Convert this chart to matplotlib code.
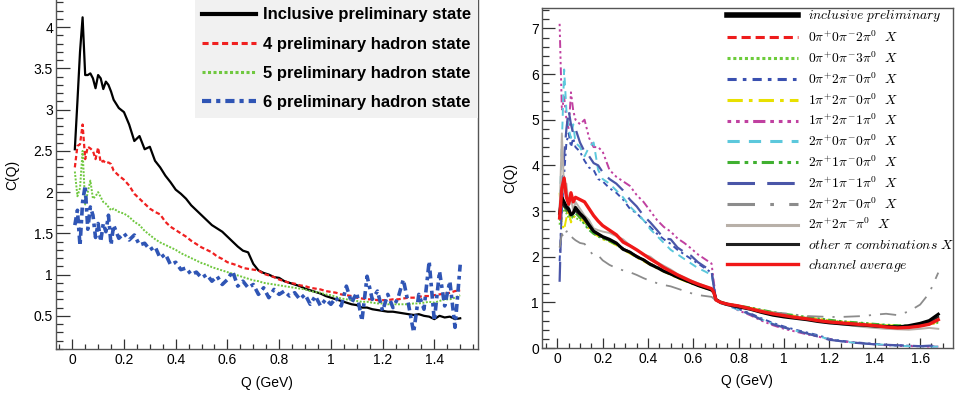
import numpy as np
import matplotlib
matplotlib.use("Agg")
import matplotlib.pyplot as plt
from matplotlib.ticker import MultipleLocator, FuncFormatter

plt.rcParams["font.family"] = ["Liberation Sans", "DejaVu Sans"]
plt.rcParams["mathtext.fontset"] = "cm"

# ---------------- left panel: final-state multiplicity ----------------
q_left = np.round(np.concatenate([np.arange(0.01, 0.165, 0.01),
                                  np.arange(0.18, 1.505, 0.02)]), 2)

c_inclusive = [
    2.52, 3.10, 3.70, 4.12, 3.42, 3.42, 3.44, 3.38, 3.26, 3.42,
    3.38, 3.25, 3.34, 3.30, 3.22, 3.12, 3.02, 2.97, 2.82, 2.62,
    2.68, 2.52, 2.55, 2.38, 2.30, 2.20, 2.12, 2.03, 1.98, 1.92,
    1.84, 1.78, 1.72, 1.66, 1.60, 1.56, 1.52, 1.46, 1.40, 1.34,
    1.29, 1.27, 1.13, 1.05, 1.02, 1.00, 0.97, 0.96, 0.92, 0.90,
    0.88, 0.86, 0.83, 0.81, 0.79, 0.77, 0.74, 0.72, 0.70, 0.68,
    0.66, 0.64, 0.63, 0.60, 0.60, 0.58, 0.57, 0.56, 0.55, 0.55,
    0.54, 0.53, 0.52, 0.51, 0.52, 0.50, 0.49, 0.46, 0.50, 0.48,
    0.49, 0.46, 0.47]
c_4had = [
    2.30, 2.56, 2.58, 2.82, 2.40, 2.55, 2.53, 2.50, 2.40, 2.54,
    2.36, 2.38, 2.35, 2.36, 2.34, 2.26, 2.20, 2.15, 2.08, 1.98,
    1.92, 1.86, 1.80, 1.76, 1.73, 1.64, 1.58, 1.54, 1.50, 1.46,
    1.41, 1.37, 1.33, 1.30, 1.27, 1.22, 1.19, 1.15, 1.13, 1.11,
    1.08, 1.07, 1.06, 1.05, 1.01, 0.99, 0.97, 0.94, 0.92, 0.90,
    0.89, 0.87, 0.86, 0.84, 0.83, 0.82, 0.80, 0.79, 0.78, 0.76,
    0.75, 0.74, 0.72, 0.71, 0.70, 0.70, 0.69, 0.69, 0.69, 0.70,
    0.70, 0.71, 0.72, 0.72, 0.73, 0.74, 0.74, 0.75, 0.76, 0.77,
    0.78, 0.80, 0.81]
c_5had = [
    2.25, 1.95, 2.05, 2.50, 1.85, 2.00, 2.14, 1.92, 1.95, 2.00,
    1.94, 1.88, 1.86, 1.82, 1.78, 1.80, 1.76, 1.74, 1.70, 1.64,
    1.60, 1.53, 1.48, 1.43, 1.39, 1.36, 1.33, 1.30, 1.26, 1.23,
    1.20, 1.17, 1.14, 1.12, 1.09, 1.07, 1.05, 1.03, 1.01, 0.99,
    0.97, 0.95, 0.93, 0.92, 0.90, 0.89, 0.88, 0.87, 0.86, 0.85,
    0.84, 0.83, 0.82, 0.80, 0.79, 0.78, 0.76, 0.75, 0.73, 0.71,
    0.70, 0.69, 0.68, 0.67, 0.67, 0.66, 0.65, 0.65, 0.64, 0.64,
    0.64, 0.64, 0.64, 0.65, 0.65, 0.66, 0.67, 0.66, 0.68, 0.70,
    0.70, 0.72, 0.75]
c_6had = [
    1.60, 1.78, 1.35, 1.88, 2.08, 1.55, 1.82, 1.72, 1.45, 1.62,
    1.40, 1.62, 1.52, 1.72, 1.36, 1.60, 1.44, 1.50, 1.42, 1.48,
    1.36, 1.38, 1.30, 1.34, 1.20, 1.25, 1.12, 1.15, 1.06, 1.08,
    1.00, 1.03, 0.96, 1.00, 0.92, 0.98, 0.88, 0.94, 1.04, 0.86,
    0.92, 0.84, 0.88, 0.76, 0.84, 0.72, 0.82, 0.76, 0.80, 0.74,
    0.78, 0.70, 0.76, 0.64, 0.74, 0.62, 0.70, 0.64, 0.72, 0.62,
    0.86, 0.66, 0.78, 0.44, 0.98, 0.70, 0.80, 0.56, 0.76, 0.60,
    0.72, 0.94, 0.64, 0.30, 0.76, 0.58, 1.16, 0.44, 1.04, 0.62,
    0.92, 0.36, 1.12]

left_labels = ["Inclusive preliminary state", "4 preliminary hadron state",
               "5 preliminary hadron state", "6 preliminary hadron state"]

# ---------------- right panel: pion-charge channels ----------------
q_right = [0.01, 0.02, 0.03, 0.04, 0.05, 0.06, 0.07, 0.08,
           0.10, 0.12, 0.14, 0.16, 0.18, 0.20,
           0.23, 0.26, 0.29, 0.32, 0.35, 0.38, 0.41, 0.44, 0.47, 0.50,
           0.53, 0.56, 0.59, 0.62, 0.65, 0.68,
           0.69, 0.70, 0.72, 0.75,
           0.80, 0.85, 0.90, 0.95, 1.00, 1.05, 1.10, 1.15, 1.20, 1.25,
           1.30, 1.35, 1.40, 1.45, 1.50, 1.55, 1.60,
           1.64, 1.68]

ch_inclusive = [2.95, 3.30, 3.20, 3.10, 3.05, 2.92, 2.95, 3.08,
                2.95, 2.85, 2.70, 2.56, 2.50, 2.44,
                2.38, 2.30, 2.16, 2.10, 2.00, 1.93, 1.83, 1.76, 1.68, 1.62, 1.55, 1.49, 1.43, 1.37, 1.32, 1.27,
                1.22, 1.06, 1.00, 0.95,
                0.90, 0.85, 0.78, 0.72, 0.68, 0.65, 0.62, 0.58, 0.55, 0.53, 0.51, 0.50, 0.48, 0.47, 0.46, 0.49, 0.54,
                0.60, 0.74]
ch_002 = [2.80, 3.20, 3.05, 3.00, 2.95, 2.90, 3.00, 2.95,
          2.90, 2.80, 2.66, 2.55, 2.48, 2.42,
          2.35, 2.28, 2.18, 2.10, 2.02, 1.94, 1.85, 1.78, 1.70, 1.63, 1.56, 1.50, 1.44, 1.38, 1.33, 1.28,
          1.20, 1.04, 1.00, 0.96,
          0.91, 0.86, 0.80, 0.74, 0.70, 0.67, 0.63, 0.60, 0.57, 0.55, 0.53, 0.51, 0.50, 0.48, 0.47, 0.47, 0.50,
          0.54, 0.62]
ch_003 = [2.70, 3.10, 3.00, 2.95, 2.85, 2.80, 2.90, 2.85,
          2.80, 2.75, 2.62, 2.52, 2.46, 2.40,
          2.34, 2.27, 2.17, 2.09, 2.00, 1.93, 1.85, 1.77, 1.69, 1.62, 1.56, 1.50, 1.44, 1.38, 1.33, 1.28,
          1.22, 1.07, 1.02, 0.97,
          0.92, 0.87, 0.82, 0.77, 0.73, 0.70, 0.66, 0.63, 0.60, 0.58, 0.56, 0.54, 0.52, 0.50, 0.49, 0.48, 0.50,
          0.52, 0.55]
ch_020 = [1.90, 3.00, 3.80, 4.50, 4.70, 4.40, 4.60, 4.40,
          4.30, 4.10, 3.95, 3.90, 3.70, 3.65,
          3.50, 3.40, 3.25, 3.05, 2.95, 2.80, 2.65, 2.50, 2.38, 2.28, 2.15, 2.05, 1.95, 1.85, 1.75, 1.65,
          1.40, 1.06, 1.00, 0.95,
          0.85, 0.76, 0.65, 0.55, 0.47, 0.40, 0.34, 0.28, 0.20, 0.16, 0.13, 0.11, 0.09, 0.07, 0.06, 0.05, 0.04,
          0.04, 0.03]
ch_120 = [3.40, 2.70, 2.60, 2.85, 3.00, 2.75, 2.85, 2.90,
          2.85, 2.75, 2.60, 2.50, 2.45, 2.38,
          2.33, 2.25, 2.15, 2.07, 1.98, 1.90, 1.82, 1.74, 1.67, 1.60, 1.53, 1.47, 1.41, 1.36, 1.31, 1.26,
          1.20, 1.05, 1.00, 0.96,
          0.92, 0.88, 0.83, 0.78, 0.74, 0.70, 0.67, 0.64, 0.61, 0.58, 0.56, 0.54, 0.52, 0.50, 0.49, 0.48, 0.50,
          0.52, 0.56]
ch_121 = [7.10, 5.20, 5.50, 5.00, 4.80, 5.60, 5.20, 5.00,
          4.90, 5.00, 4.60, 4.40, 4.40, 4.30,
          3.90, 3.75, 3.65, 3.55, 3.35, 3.20, 3.00, 2.80, 2.65, 2.55, 2.40, 2.30, 2.18, 2.05, 1.95, 1.85,
          1.45, 1.08, 1.00, 0.95,
          0.82, 0.72, 0.60, 0.50, 0.42, 0.36, 0.30, 0.25, 0.19, 0.15, 0.12, 0.10, 0.08, 0.06, 0.05, 0.04, 0.04,
          0.03, 0.03]
ch_200 = [3.00, 4.50, 6.10, 5.20, 4.80, 4.60, 4.90, 4.50,
          4.40, 4.20, 4.40, 4.50, 3.90, 3.70,
          3.60, 3.45, 3.30, 3.10, 2.95, 2.80, 2.60, 2.45, 2.30, 2.15, 2.05, 1.95, 1.85, 1.75, 1.68, 1.60,
          1.35, 1.05, 0.98, 0.93,
          0.83, 0.74, 0.63, 0.53, 0.45, 0.38, 0.32, 0.26, 0.19, 0.15, 0.12, 0.10, 0.08, 0.07, 0.05, 0.04, 0.04,
          0.03, 0.03]
ch_210 = [2.90, 3.25, 3.10, 3.00, 2.95, 2.85, 2.90, 2.95,
          2.85, 2.70, 2.58, 2.50, 2.44, 2.40,
          2.34, 2.26, 2.17, 2.09, 2.01, 1.93, 1.84, 1.76, 1.69, 1.62, 1.55, 1.49, 1.43, 1.37, 1.32, 1.27,
          1.21, 1.06, 1.01, 0.97,
          0.93, 0.89, 0.84, 0.79, 0.75, 0.72, 0.68, 0.65, 0.62, 0.59, 0.57, 0.55, 0.53, 0.51, 0.50, 0.49, 0.51,
          0.53, 0.58]
ch_211 = [1.45, 3.30, 4.20, 4.80, 5.20, 4.90, 4.70, 4.80,
          4.50, 4.30, 4.20, 4.05, 4.00, 3.85,
          3.70, 3.60, 3.45, 3.25, 3.10, 2.90, 2.75, 2.58, 2.40, 2.38, 2.20, 2.10, 2.02, 1.88, 1.78, 1.70,
          1.34, 1.07, 1.00, 0.97,
          0.84, 0.74, 0.62, 0.52, 0.45, 0.38, 0.32, 0.25, 0.18, 0.15, 0.12, 0.10, 0.08, 0.07, 0.06, 0.05, 0.04,
          0.05, 0.05]
ch_220 = [2.20, 2.50, 2.40, 2.55, 2.58, 2.45, 2.40, 2.36,
          2.30, 2.28, 2.15, 2.02, 2.03, 1.92,
          1.82, 1.75, 1.70, 1.66, 1.60, 1.53, 1.47, 1.42, 1.38, 1.35, 1.30, 1.25, 1.20, 1.16, 1.14, 1.12,
          1.08, 1.03, 1.00, 0.95,
          0.91, 0.87, 0.82, 0.78, 0.76, 0.73, 0.70, 0.69, 0.68, 0.68, 0.69, 0.70, 0.73, 0.75, 0.72, 0.80, 0.95,
          1.20, 1.65]
ch_22x = [3.00, 4.70, 3.40, 3.60, 3.10, 3.30, 3.00, 3.20,
          3.05, 2.90, 2.80, 2.62, 2.58, 2.55,
          2.52, 2.45, 2.38, 2.25, 2.15, 2.05, 2.00, 1.88, 1.80, 1.72, 1.62, 1.55, 1.48, 1.42, 1.36, 1.30,
          1.20, 1.05, 0.98, 0.94,
          0.90, 0.86, 0.82, 0.76, 0.72, 0.68, 0.64, 0.60, 0.56, 0.52, 0.49, 0.46, 0.44, 0.42, 0.41, 0.40, 0.42,
          0.44, 0.42]
ch_other = [2.90, 3.20, 3.10, 3.05, 3.00, 2.90, 2.95, 3.00,
            2.92, 2.80, 2.66, 2.54, 2.48, 2.42,
            2.36, 2.28, 2.18, 2.10, 2.01, 1.93, 1.84, 1.76, 1.69, 1.62, 1.55, 1.49, 1.43, 1.37, 1.32, 1.27,
            1.22, 1.06, 1.00, 0.96,
            0.91, 0.86, 0.80, 0.74, 0.70, 0.67, 0.63, 0.60, 0.57, 0.55, 0.53, 0.51, 0.49, 0.48, 0.47, 0.48, 0.52,
            0.56, 0.68]
ch_average = [2.85, 3.50, 3.72, 3.30, 3.15, 3.40, 3.20, 3.30,
              3.25, 3.20, 3.05, 2.90, 2.78, 2.68,
              2.58, 2.48, 2.32, 2.24, 2.15, 2.05, 1.95, 1.86, 1.76, 1.68, 1.60, 1.53, 1.46, 1.40, 1.35, 1.30,
              1.22, 1.05, 1.00, 0.96,
              0.92, 0.86, 0.80, 0.75, 0.71, 0.67, 0.64, 0.60, 0.57, 0.55, 0.53, 0.51, 0.49, 0.46, 0.44, 0.45, 0.48,
              0.52, 0.62]

right_labels = [
    r"$\mathit{inclusive\ preliminary}$",
    r"$0\pi^{+}0\pi^{-}2\pi^{0}\ \ X$",
    r"$0\pi^{+}0\pi^{-}3\pi^{0}\ \ X$",
    r"$0\pi^{+}2\pi^{-}0\pi^{0}\ \ X$",
    r"$1\pi^{+}2\pi^{-}0\pi^{0}\ \ X$",
    r"$1\pi^{+}2\pi^{-}1\pi^{0}\ \ X$",
    r"$2\pi^{+}0\pi^{-}0\pi^{0}\ \ X$",
    r"$2\pi^{+}1\pi^{-}0\pi^{0}\ \ X$",
    r"$2\pi^{+}1\pi^{-}1\pi^{0}\ \ X$",
    r"$2\pi^{+}2\pi^{-}0\pi^{0}\ \ X$",
    r"$2\pi^{+}2\pi^{-}\pi^{0}\ \ X$",
    r"$\mathit{other}\ \pi\ \mathit{combinations}\ X$",
    r"$\mathit{channel\ average}$",
]
right_series = [ch_inclusive, ch_002, ch_003, ch_020, ch_120, ch_121,
                ch_200, ch_210, ch_211, ch_220, ch_22x, ch_other, ch_average]

# ---------------- styling ----------------
left_styles = [
    dict(color="black", lw=1.6, ls="-"),
    dict(color="#f02020", lw=1.6, ls=(0, (2.0, 1.2))),
    dict(color="#70c840", lw=1.4, ls=(0, (1.0, 0.8))),
    dict(color="#2f55b5", lw=2.6, ls=(0, (2.2, 1.2, 1.0, 1.2))),
]
right_styles = [
    dict(color="black", lw=2.2, ls="-", zorder=4),
    dict(color="#ee1c1c", lw=1.4, ls=(0, (3, 1.6)), zorder=3),
    dict(color="#6ccc3a", lw=1.4, ls=(0, (1, 0.9)), zorder=3),
    dict(color="#3a50b0", lw=1.4, ls=(0, (3, 2, 1.2, 2)), zorder=3),
    dict(color="#e8e000", lw=1.4, ls=(0, (5, 2, 1.2, 2)), zorder=3),
    dict(color="#c040a0", lw=1.4, ls=(0, (1.2, 1.6, 1.2, 1.6, 1.2, 1.6, 4, 1.6)), zorder=3),
    dict(color="#5cc8dc", lw=1.4, ls=(0, (4, 3)), zorder=3),
    dict(color="#40b030", lw=1.4, ls=(0, (4, 1.6, 1.2, 1.6, 1.2, 1.6)), zorder=3),
    dict(color="#4a56a8", lw=1.6, ls=(0, (9, 4)), zorder=3),
    dict(color="#8c8c8c", lw=1.3, ls=(0, (9, 5, 1.2, 5)), zorder=3),
    dict(color="#b8b0a8", lw=1.4, ls="-", zorder=3),
    dict(color="#202020", lw=1.4, ls="-", zorder=3),
    dict(color="#f01818", lw=2.4, ls="-", zorder=5),
]

W, H = 956, 397
fig = plt.figure(figsize=(W / 100, H / 100), dpi=100)

spine_col = "#555555"
plain = FuncFormatter(lambda v, p: f"{v:g}")


def frame(ax, xmaj, xmin, ymaj, ymin, ymaj_len):
    ax.xaxis.set_major_locator(MultipleLocator(xmaj))
    ax.xaxis.set_minor_locator(MultipleLocator(xmin))
    ax.yaxis.set_major_locator(MultipleLocator(ymaj))
    ax.yaxis.set_minor_locator(MultipleLocator(ymin))
    ax.xaxis.set_major_formatter(plain)
    ax.yaxis.set_major_formatter(plain)
    ax.tick_params(axis="both", which="both", direction="in", color="#333333",
                   width=0.9, labelsize=10, top=False, right=False)
    ax.tick_params(axis="x", which="major", length=7.2, pad=3)
    ax.tick_params(axis="x", which="minor", length=3.6)
    ax.tick_params(axis="y", which="major", length=ymaj_len, pad=2)
    ax.tick_params(axis="y", which="minor", length=ymaj_len / 2)
    for s in ax.spines.values():
        s.set_color(spine_col)
        s.set_linewidth(1.0)
    ax.set_xlabel("Q (GeV)", fontsize=10, labelpad=6)
    ax.set_ylabel("C(Q)", fontsize=10, labelpad=10)


# left panel
axL = fig.add_axes([55.7 / W, 1 - 349.3 / H, (478.3 - 55.7) / W, 349.3 / H])
for y, lab, st in zip([c_inclusive, c_4had, c_5had, c_6had], left_labels, left_styles):
    axL.plot(q_left, y, label=lab, **st)
axL.set_xlim(-0.064, 1.57)
axL.set_ylim(0.094, 4.33)
frame(axL, 0.2, 0.05, 0.5, 0.1, 10)
axL.spines["top"].set_visible(False)
legL = axL.legend(loc="upper right", bbox_to_anchor=(1.0, 1.0), frameon=True,
                  fancybox=False, facecolor="#f1f1f1", edgecolor="none", framealpha=1,
                  prop=dict(weight="bold", size=12), handlelength=3.2,
                  handletextpad=0.42, labelspacing=0.85, borderpad=0.45,
                  borderaxespad=0.0)
for h, w in zip(legL.get_lines(), [3.0, 2.2, 2.2, 3.0]):
    h.set_linewidth(w)

# right panel
axR = fig.add_axes([541.7 / W, 1 - 348 / H, (953 - 541.7) / W, (348 - 8.3) / H])
for y, lab, st in zip(right_series, right_labels, right_styles):
    axR.plot(q_right, y, label=lab, **st)
axR.set_xlim(-0.069, 1.745)
axR.set_ylim(0, 7.44)
frame(axR, 0.2, 0.05, 1, 0.2, 9.5)
legR = axR.legend(loc="upper left", bbox_to_anchor=(0.4505, 1.0), frameon=False,
                  fontsize=9.8, handlelength=5.2, handletextpad=0.72,
                  labelspacing=0.39, borderpad=0.0, borderaxespad=0.0)
for h in legR.get_lines():
    h.set_linewidth(max(h.get_linewidth(), 2.2))
legR.get_lines()[0].set_linewidth(4)

fig.savefig("out.png", dpi=100)
